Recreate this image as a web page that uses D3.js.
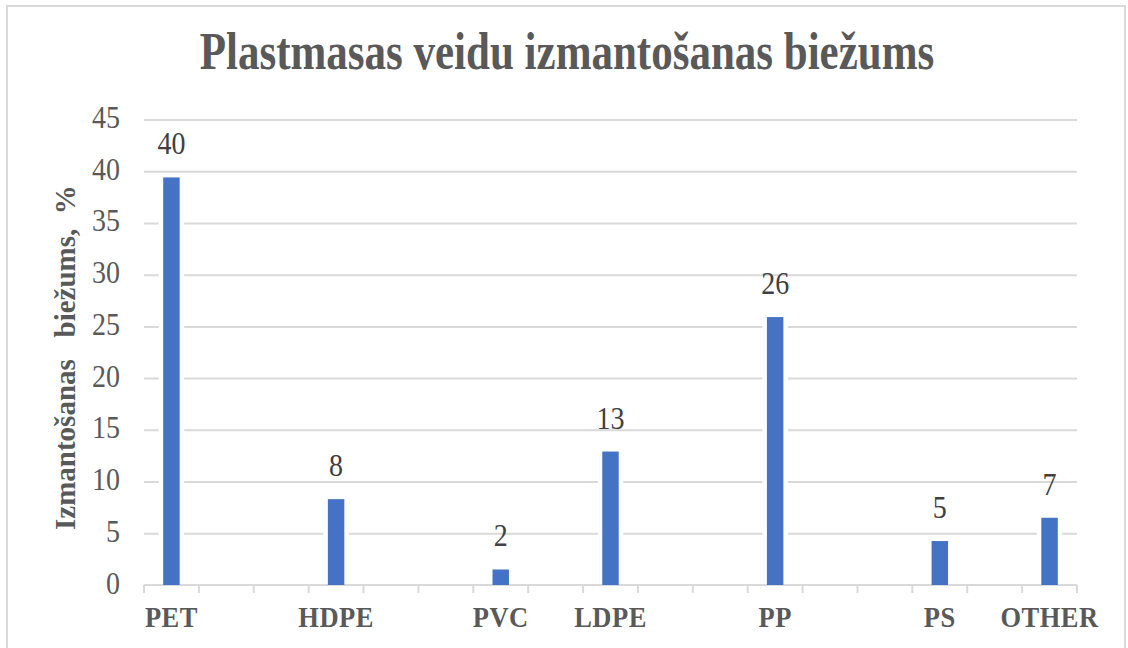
<!DOCTYPE html>
<html>
<head>
<meta charset="utf-8">
<script src="https://cdn.jsdelivr.net/npm/d3@7"></script>
<style>
  body { margin: 0; background: #fff; }
  text { font-family: "Liberation Serif", "Times New Roman", serif; }
</style>
</head>
<body>
<div class="chart"></div>
<script>
// Chart data (blank slots are empty categories on the x axis)
var categories = ["PET", "", "", "HDPE", "", "", "PVC", "", "LDPE", "", "", "PP", "", "", "PS", "", "OTHER"];
var values = [39.4, null, null, 8.3, null, null, 1.5, null, 12.9, null, null, 25.9, null, null, 4.25, null, 6.5];
var valueLabels = ["40", "", "", "8", "", "", "2", "", "13", "", "", "26", "", "", "5", "", "7"];
var yTicks = [0, 5, 10, 15, 20, 25, 30, 35, 40, 45];

var chartTitle = "Plastmasas veidu izmantošanas biežums";
var yTitle = "Izmantošanas   biežums,  %";

var svgWidth = 1128;
var svgHeight = 648;

var plot = { left: 144, right: 1077, top: 119.5, bottom: 585 };

var svg = d3.select(".chart")
  .append("svg")
  .attr("width", svgWidth)
  .attr("height", svgHeight);

// outer frame
svg.append("rect")
  .attr("x", 7).attr("y", 6)
  .attr("width", 1118).attr("height", 700)
  .attr("fill", "#fff")
  .attr("stroke", "#d9d9d9")
  .attr("stroke-width", 2);

var xBand = d3.scaleBand()
  .domain(d3.range(categories.length))
  .range([plot.left, plot.right])
  .padding(0);

var yLinear = d3.scaleLinear()
  .domain([0, 45])
  .range([plot.bottom, plot.top]);

// gridlines + y tick labels
var yAxis = d3.axisLeft(yLinear)
  .tickValues(yTicks)
  .tickSize(-(plot.right - plot.left))
  .tickPadding(24);

var yAxisG = svg.append("g")
  .attr("transform", `translate(${plot.left}, 0)`)
  .call(yAxis);

yAxisG.select(".domain").remove();
yAxisG.selectAll(".tick line")
  .attr("stroke", "#d9d9d9")
  .attr("stroke-width", 2)
  .filter(d => d === 0).remove();
yAxisG.selectAll(".tick text")
  .attr("fill", "#595959")
  .attr("font-size", 28)
  .attr("font-family", "Liberation Serif")
  .attr("x", -24)
  .attr("dy", 7)
  .attr("transform", "scale(1,1.15)");

// bars: white halo first so gridlines break around them
var barW = xBand.bandwidth() * 0.3;
var barData = values.map((v, i) => ({ i: i, v: v, label: valueLabels[i] })).filter(d => d.v !== null);

svg.selectAll(".halo")
  .data(barData)
  .enter()
  .append("rect")
  .attr("class", "halo")
  .attr("x", d => xBand(d.i) + (xBand.bandwidth() - barW) / 2 - 4.5)
  .attr("y", d => yLinear(d.v) - 4)
  .attr("width", barW + 9)
  .attr("height", d => plot.bottom - yLinear(d.v) + 3)
  .attr("fill", "#fff");

// x axis line and boundary ticks
var bounds = d3.range(categories.length + 1).map(i => plot.left + i * xBand.step());
svg.append("line")
  .attr("x1", plot.left).attr("x2", plot.right)
  .attr("y1", plot.bottom).attr("y2", plot.bottom)
  .attr("stroke", "#d9d9d9").attr("stroke-width", 2);
svg.selectAll(".xtick")
  .data(bounds)
  .enter()
  .append("line")
  .attr("class", "xtick")
  .attr("x1", d => d).attr("x2", d => d)
  .attr("y1", plot.bottom).attr("y2", plot.bottom + 8)
  .attr("stroke", "#d9d9d9").attr("stroke-width", 2);

svg.selectAll(".bar")
  .data(barData)
  .enter()
  .append("rect")
  .attr("class", "bar")
  .attr("x", d => xBand(d.i) + (xBand.bandwidth() - barW) / 2)
  .attr("y", d => yLinear(d.v))
  .attr("width", barW)
  .attr("height", d => plot.bottom - yLinear(d.v))
  .attr("fill", "#4472c4");

// data labels
svg.selectAll(".vlabel")
  .data(barData)
  .enter()
  .append("text")
  .attr("class", "vlabel")
  .attr("transform", d => `translate(${xBand(d.i) + xBand.bandwidth() / 2}, ${yLinear(d.v) - 23}) scale(1,1.1)`)
  .attr("text-anchor", "middle")
  .attr("font-size", 28)
  .attr("fill", "#404040")
  .text(d => d.label);

// category labels
svg.selectAll(".xlabel")
  .data(categories.map((c, i) => ({ c: c, i: i })).filter(d => d.c !== ""))
  .enter()
  .append("text")
  .attr("class", "xlabel")
  .attr("transform", d => `translate(${xBand(d.i) + xBand.bandwidth() / 2}, 627) scale(1,1.15)`)
  .attr("text-anchor", "middle")
  .attr("font-size", 26.5)
  .attr("font-weight", "bold")
  .attr("letter-spacing", 0.5)
  .attr("fill", "#595959")
  .text(d => d.c);

// title
svg.append("text")
  .attr("transform", "translate(567, 69) scale(1,1.22)")
  .attr("text-anchor", "middle")
  .attr("font-size", 43)
  .attr("font-weight", "bold")
  .attr("fill", "#595959")
  .text(chartTitle);

// y axis title
svg.append("text")
  .attr("transform", "translate(75, 530) rotate(-90)")
  .attr("text-anchor", "start")
  .attr("font-size", 29)
  .attr("font-weight", "bold")
  .attr("fill", "#595959")
  .style("white-space", "pre")
  .text(yTitle);
</script>
</body>
</html>
